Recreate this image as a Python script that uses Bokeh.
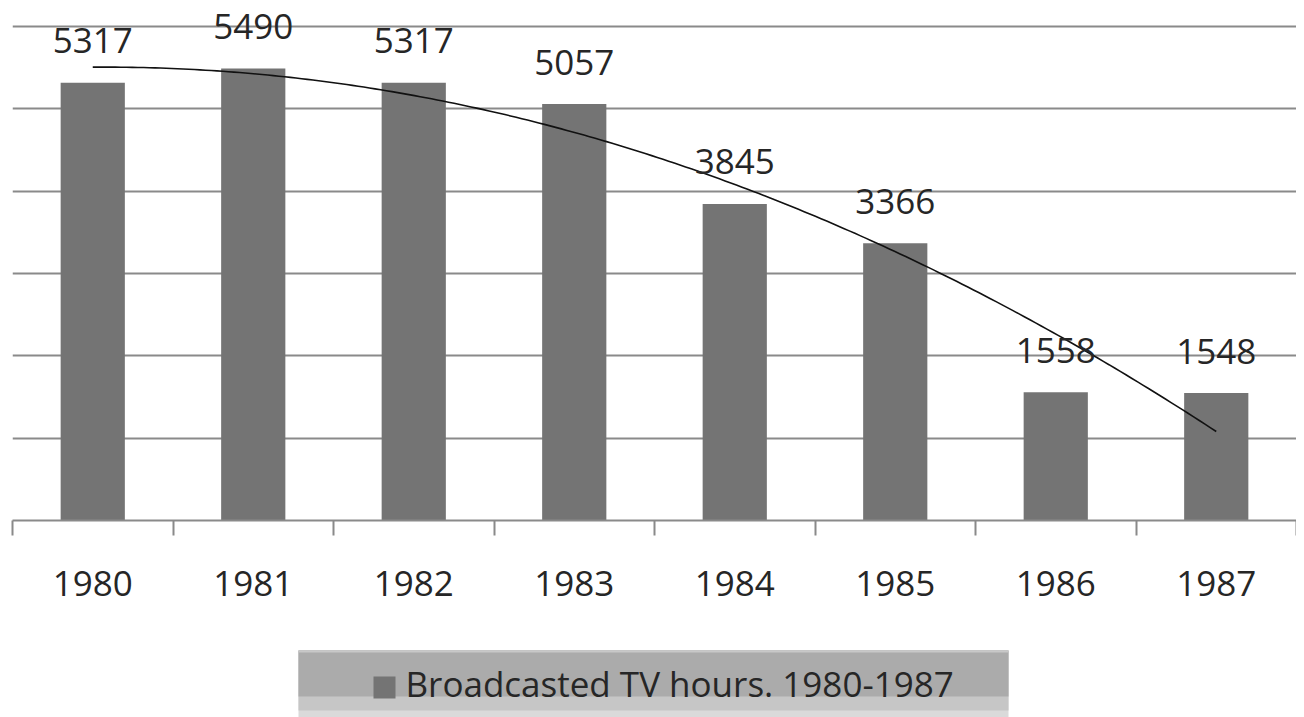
import numpy as np
from bokeh.plotting import figure
from bokeh.layouts import column
from bokeh.models import Range1d, FixedTicker, ColumnDataSource
from bokeh.core.properties import value
from bokeh.embed import file_html
from bokeh.resources import INLINE

years = ["1980", "1981", "1982", "1983", "1984", "1985", "1986", "1987"]
hours = [5317, 5490, 5317, 5057, 3845, 3366, 1558, 1548]
grid_values = [0, 1000, 2000, 3000, 4000, 5000, 6000]
legend_label = "Broadcasted TV hours. 1980-1987"

FONT = value("Open Sans")
TXT = "#262626"
GRAY = "#8a8a8a"

xs = list(range(1, len(years) + 1))
src = ColumnDataSource(dict(x=xs, top=hours, label=[str(v) for v in hours]))

p = figure(width=1296, height=638, output_backend="svg", toolbar_location=None,
           x_range=Range1d(0.5, 8.5), y_range=Range1d(0, 6218),
           min_border_left=12, min_border_right=0, min_border_top=8, min_border_bottom=118)
p.outline_line_color = None
p.background_fill_color = "white"
p.border_fill_color = "white"

p.vbar(x="x", top="top", width=0.4, source=src, fill_color="#747474", line_color=None)

# 2nd order polynomial trendline (as in the source chart)
coef = np.polyfit(xs, hours, 2)
tx = np.linspace(1, 8, 200)
p.line(tx, np.polyval(coef, tx), line_color="#111111", line_width=1.6)

p.text(x="x", y="top", text="label", source=src, text_align="center",
       text_baseline="alphabetic", y_offset=-42, text_font=FONT,
       text_font_size="35px", text_color=TXT)

# y axis hidden, grid only
p.yaxis.visible = False
p.yaxis.ticker = FixedTicker(ticks=grid_values)
p.ygrid.ticker = FixedTicker(ticks=grid_values)
p.ygrid.grid_line_color = GRAY
p.ygrid.grid_line_width = 2
p.xgrid.visible = False

ax = p.xaxis[0]
ax.ticker = FixedTicker(ticks=xs, minor_ticks=[x - 0.5 for x in xs] + [xs[-1] + 0.5])
ax.major_label_overrides = {x: y for x, y in zip(xs, years)}
ax.major_tick_out = 0
ax.major_tick_in = 0
ax.minor_tick_out = 15
ax.minor_tick_in = 0
ax.minor_tick_line_color = GRAY
ax.minor_tick_line_width = 2
ax.axis_line_color = GRAY
ax.axis_line_width = 2
ax.major_label_standoff = 35
ax.major_label_text_font = "Open Sans"
ax.major_label_text_font_size = "35px"
ax.major_label_text_color = TXT

# Legend strip (frame aligned with the chart frame above)
q = figure(width=1296, height=79, output_backend="svg", toolbar_location=None,
           x_range=Range1d(12, 1296), y_range=Range1d(0, 79),
           x_axis_location=None, y_axis_location=None,
           min_border_left=12, min_border_right=0, min_border_top=0, min_border_bottom=0)
q.outline_line_color = None
q.grid.visible = False
q.background_fill_color = "white"
q.border_fill_color = "white"

q.quad(left=[298], right=[1008], bottom=[0], top=[67], fill_color="#dadada", line_color=None)
q.quad(left=[298], right=[1008], bottom=[7], top=[67], fill_color="#c6c6c6", line_color=None)
q.quad(left=[298], right=[1008], bottom=[21], top=[67], fill_color="#ababab", line_color=None)
q.quad(left=[298], right=[1008], bottom=[65], top=[67], fill_color="#c8c8c8", line_color=None)
q.quad(left=[373], right=[395], bottom=[19], top=[41], fill_color="#747474", line_color=None)
q.text(x=[405], y=[34], text=[legend_label], text_align="left", text_baseline="alphabetic",
       text_font=FONT, text_font_size="35px", text_color=TXT)

layout = column(p, q, spacing=0)
open("out.html", "w").write(file_html(layout, INLINE))
